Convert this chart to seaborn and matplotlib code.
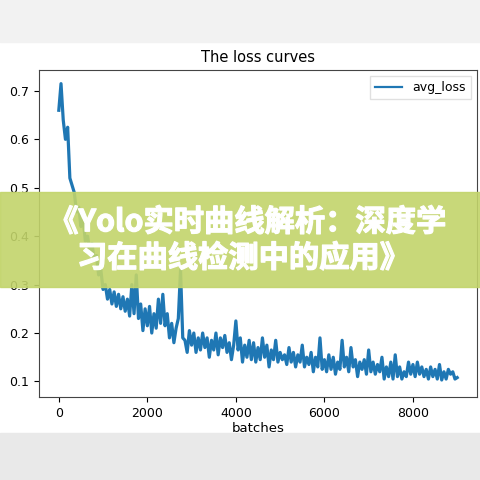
import numpy as np
import pandas as pd
import matplotlib
matplotlib.use("Agg")
import matplotlib.pyplot as plt
import matplotlib.patheffects as pe
from matplotlib.patches import Rectangle
import seaborn as sns

# avg loss, one value every 50 batches
avg_loss = [
    0.66, 0.715, 0.64, 0.60, 0.625, 0.52, 0.505, 0.49, 0.45, 0.46,
    0.42, 0.435, 0.39, 0.40, 0.37, 0.385, 0.35, 0.36, 0.32, 0.33,
    0.29, 0.30, 0.27, 0.29, 0.26, 0.285, 0.255, 0.28, 0.25, 0.275,
    0.245, 0.27, 0.235, 0.30, 0.24, 0.32, 0.23, 0.26, 0.205, 0.25,
    0.215, 0.255, 0.20, 0.24, 0.21, 0.27, 0.22, 0.28, 0.215, 0.24,
    0.19, 0.22, 0.18, 0.21, 0.23, 0.33, 0.19, 0.185, 0.16, 0.205,
    0.175, 0.20, 0.16, 0.19, 0.165, 0.20, 0.17, 0.19, 0.15, 0.185,
    0.165, 0.20, 0.155, 0.19, 0.17, 0.195, 0.16, 0.18, 0.145, 0.175,
    0.225, 0.165, 0.19, 0.14, 0.175, 0.15, 0.185, 0.145, 0.18, 0.14,
    0.17, 0.145, 0.19, 0.15, 0.175, 0.13, 0.165, 0.145, 0.185, 0.14,
    0.16, 0.145, 0.155, 0.135, 0.17, 0.14, 0.16, 0.13, 0.155, 0.14,
    0.175, 0.13, 0.15, 0.135, 0.16, 0.12, 0.15, 0.13, 0.19, 0.125,
    0.145, 0.12, 0.155, 0.125, 0.15, 0.115, 0.14, 0.125, 0.185, 0.13,
    0.15, 0.12, 0.17, 0.13, 0.145, 0.11, 0.14, 0.125, 0.145, 0.115,
    0.165, 0.12, 0.14, 0.115, 0.135, 0.12, 0.15, 0.105, 0.13, 0.11,
    0.14, 0.105, 0.155, 0.11, 0.13, 0.105, 0.12, 0.11, 0.14, 0.115,
    0.135, 0.11, 0.14, 0.115, 0.13, 0.11, 0.125, 0.105, 0.13, 0.11,
    0.125, 0.105, 0.135, 0.103, 0.12, 0.105, 0.125, 0.115, 0.12, 0.105,
    0.108,
]
batches = np.arange(0, 50 * len(avg_loss), 50)
x_ticks = [0, 2000, 4000, 6000, 8000]
y_ticks = [0.1, 0.2, 0.3, 0.4, 0.5, 0.6, 0.7]
banner_lines = ["《Yolo实时曲线解析：深度学", "习在曲线检测中的应用》"]

df = pd.DataFrame({"batches": batches, "avg_loss": avg_loss})

fig = plt.figure(figsize=(4.8, 4.8), dpi=100)
fig.patch.set_facecolor("white")
# grey screenshot strips top and bottom
fig.patches.append(Rectangle((0, 0.912), 1, 0.088, transform=fig.transFigure,
                             color="#f2f2f2", zorder=0))
fig.patches.append(Rectangle((0, 0), 1, 0.098, transform=fig.transFigure,
                             color="#e9e9e9", zorder=0))

ax = fig.add_axes([0.081, 0.173, 0.913, 0.681])
sns.lineplot(data=df, x="batches", y="avg_loss", ax=ax, color="#1f77b4",
             linewidth=2.3, label="avg_loss")
ax.set_xticks(x_ticks)
ax.set_yticks(y_ticks)
ax.set_xlim(-450, 9450)
ax.set_ylim(0.068, 0.743)
ax.tick_params(labelsize=9, length=3.5)
ax.set_xlabel("batches", fontsize=9.5, labelpad=2)
ax.set_ylabel("")
ax.set_title("The loss curves", fontsize=10.5, pad=6)
for s in ax.spines.values():
    s.set_color("#444444")
leg = ax.legend(loc="upper right", fontsize=9, handlelength=2.2, fancybox=False,
                framealpha=0.9, edgecolor="#dddddd")
for h in leg.get_lines():
    h.set_linewidth(1.6)

# green title banner over the chart
fig.patches.append(Rectangle((0, 0.402), 1, 0.198, transform=fig.transFigure,
                             color="#c2d46a", alpha=0.9, zorder=5))
stroke = [pe.withStroke(linewidth=0.9, foreground="white")]
fig.text(0.515, 0.537, banner_lines[0], ha="center", va="center", color="white",
         fontsize=21.8, fontweight="bold", zorder=6, path_effects=stroke,
         family=["Noto Sans CJK SC", "DejaVu Sans"])
fig.text(0.507, 0.462, banner_lines[1], ha="center", va="center", color="white",
         fontsize=21.8, fontweight="bold", zorder=6, path_effects=stroke,
         family=["Noto Sans CJK SC", "DejaVu Sans"])

fig.savefig("out.png", dpi=100)
